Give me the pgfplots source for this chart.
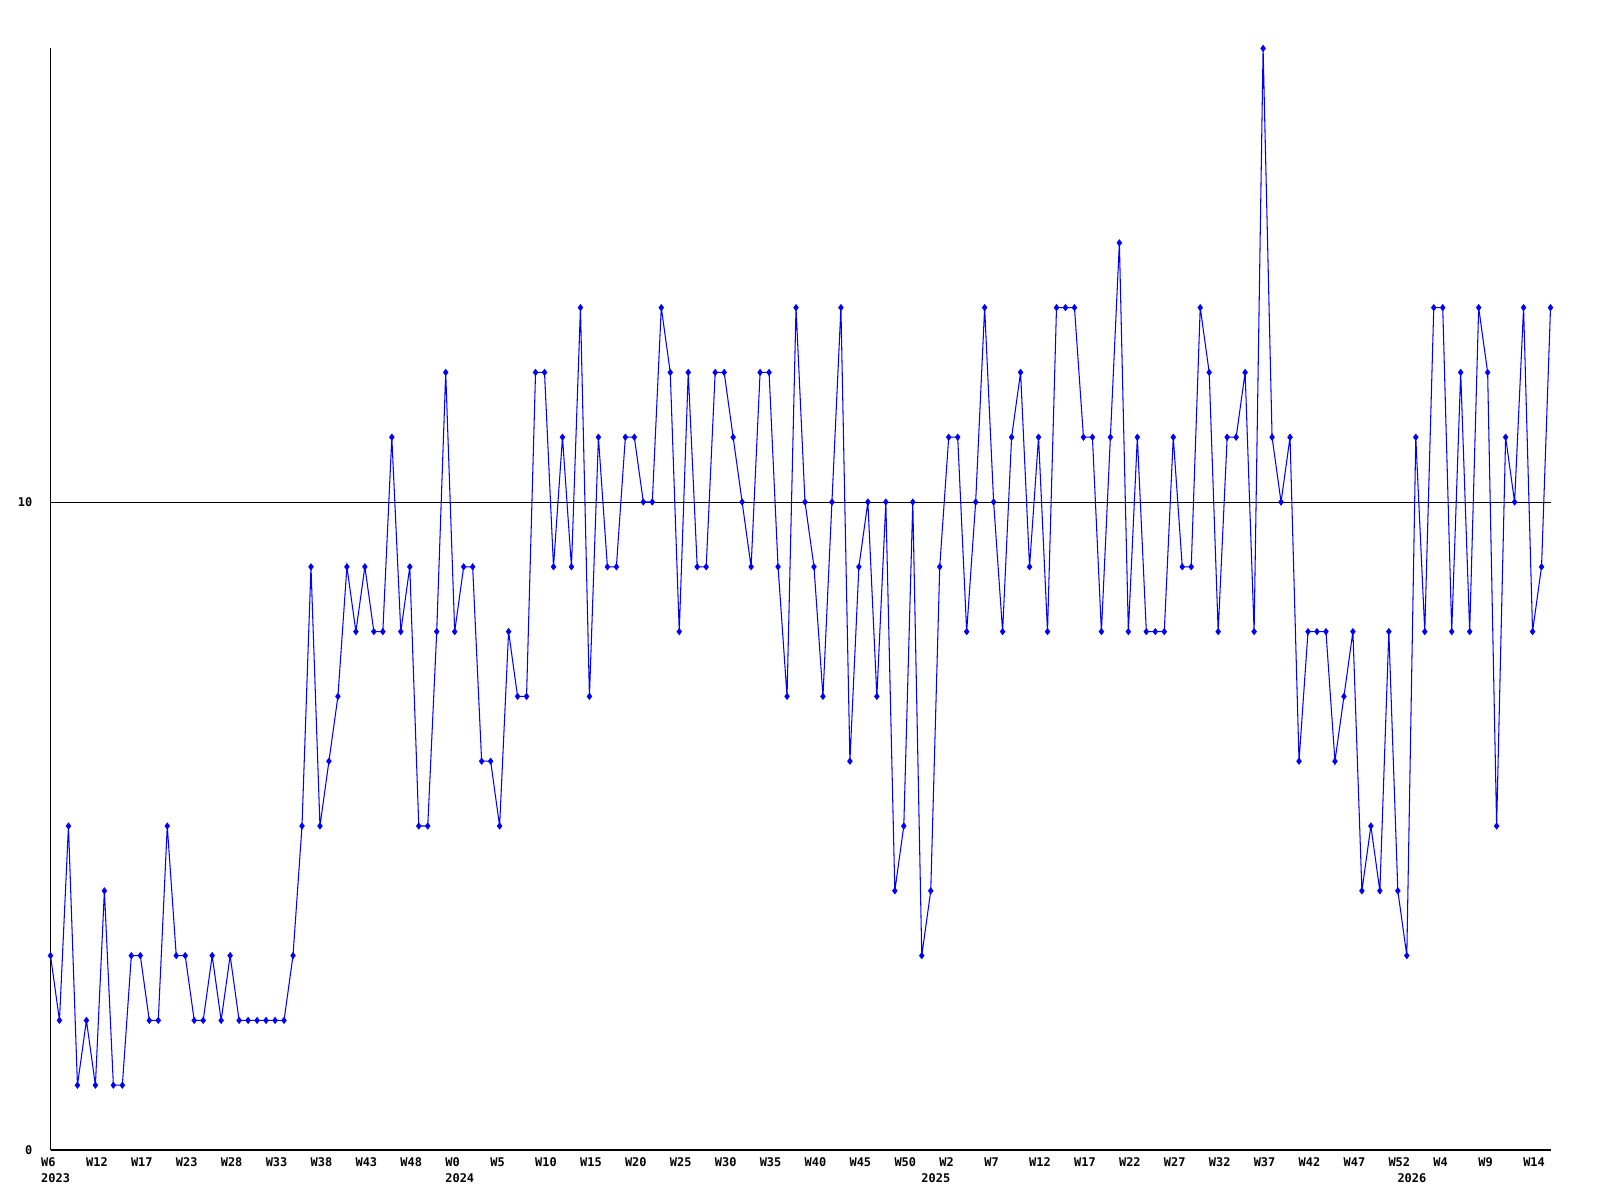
\documentclass[border=0pt]{standalone}
\usepackage{pgfplots}
\pgfplotsset{compat=1.18}
\usepackage{fontspec}
\newfontfamily\pixfont{DejaVu Sans Mono}
\newcommand\lblfont{\pixfont\bfseries\fontsize{3.4}{4}\selectfont}
\begin{document}
\begin{tikzpicture}
\useasboundingbox (-0.505cm,-0.5cm) rectangle (15.495cm,11.5cm);
\begin{axis}[
  at={(0,0)}, anchor=south west,
  scale only axis, width=15cm, height=11.016cm,
  xmin=0, xmax=167, ymin=0, ymax=17,
  axis x line=bottom, axis y line=left,
  axis line style={-, line width=0.3pt, black},
  xtick={0,5,...,165},
  xticklabels={W6,W12,W17,W23,W28,W33,W38,W43,W48,W0,W5,W10,W15,W20,W25,W30,W35,W40,W45,W50,W2,W7,W12,W17,W22,W27,W32,W37,W42,W47,W52,W4,W9,W14},
  ytick={0,10},
  ymajorgrids, grid style={black, line width=0.22pt},
  major tick length=0pt,
  tick style={draw=none},
  ticklabel style={font=\lblfont},
  xticklabel style={anchor=north west, inner sep=0pt, xshift=-0.1cm, yshift=-0.07cm},
  yticklabel style={anchor=east, inner sep=0pt, xshift=-0.175cm},
  /pgf/number format/assume math mode=true,
  clip=false,
]
\addplot[color={rgb,255:red,0;green,0;blue,255}, line width=0.3pt, mark=diamond*, mark size=0.8pt] coordinates {
(0,3)(1,2)(2,5)(3,1)(4,2)(5,1)(6,4)(7,1)(8,1)(9,3)
(10,3)(11,2)(12,2)(13,5)(14,3)(15,3)(16,2)(17,2)(18,3)(19,2)
(20,3)(21,2)(22,2)(23,2)(24,2)(25,2)(26,2)(27,3)(28,5)(29,9)
(30,5)(31,6)(32,7)(33,9)(34,8)(35,9)(36,8)(37,8)(38,11)(39,8)
(40,9)(41,5)(42,5)(43,8)(44,12)(45,8)(46,9)(47,9)(48,6)(49,6)
(50,5)(51,8)(52,7)(53,7)(54,12)(55,12)(56,9)(57,11)(58,9)(59,13)
(60,7)(61,11)(62,9)(63,9)(64,11)(65,11)(66,10)(67,10)(68,13)(69,12)
(70,8)(71,12)(72,9)(73,9)(74,12)(75,12)(76,11)(77,10)(78,9)(79,12)
(80,12)(81,9)(82,7)(83,13)(84,10)(85,9)(86,7)(87,10)(88,13)(89,6)
(90,9)(91,10)(92,7)(93,10)(94,4)(95,5)(96,10)(97,3)(98,4)(99,9)
(100,11)(101,11)(102,8)(103,10)(104,13)(105,10)(106,8)(107,11)(108,12)(109,9)
(110,11)(111,8)(112,13)(113,13)(114,13)(115,11)(116,11)(117,8)(118,11)(119,14)
(120,8)(121,11)(122,8)(123,8)(124,8)(125,11)(126,9)(127,9)(128,13)(129,12)
(130,8)(131,11)(132,11)(133,12)(134,8)(135,17)(136,11)(137,10)(138,11)(139,6)
(140,8)(141,8)(142,8)(143,6)(144,7)(145,8)(146,4)(147,5)(148,4)(149,8)
(150,4)(151,3)(152,11)(153,8)(154,13)(155,13)(156,8)(157,12)(158,8)(159,13)
(160,12)(161,5)(162,11)(163,10)(164,13)(165,8)(166,9)(167,13)
};
\node[anchor=north west, inner sep=0pt, font=\lblfont, xshift=-0.1cm, yshift=-0.23cm] at (axis cs:0,0) {2023};
\node[anchor=north west, inner sep=0pt, font=\lblfont, xshift=-0.1cm, yshift=-0.23cm] at (axis cs:45,0) {2024};
\node[anchor=north west, inner sep=0pt, font=\lblfont, xshift=-0.1cm, yshift=-0.23cm] at (axis cs:98,0) {2025};
\node[anchor=north west, inner sep=0pt, font=\lblfont, xshift=-0.1cm, yshift=-0.23cm] at (axis cs:151,0) {2026};
\end{axis}
\end{tikzpicture}
\end{document}
